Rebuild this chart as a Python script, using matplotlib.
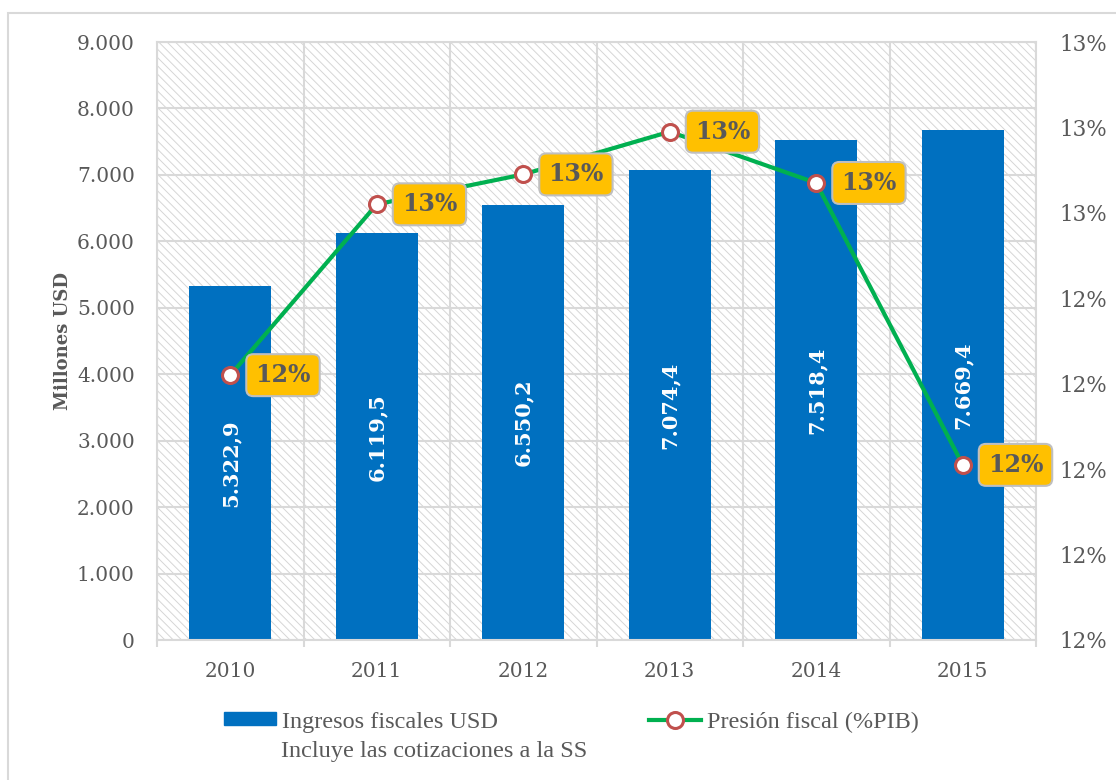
import matplotlib
matplotlib.use("Agg")
import matplotlib.pyplot as plt
from matplotlib.patches import Rectangle, Patch
from matplotlib.lines import Line2D
from matplotlib.ticker import FixedLocator, FuncFormatter
import numpy as np

# ---- data ----
years = ["2010", "2011", "2012", "2013", "2014", "2015"]
ingresos = [5322.9, 6119.5, 6550.2, 7074.4, 7518.4, 7669.4]
presion = [12.22, 12.62, 12.69, 12.79, 12.67, 12.01]
bar_label = "Ingresos fiscales USD"
bar_label2 = "Incluye las cotizaciones a la SS"
line_label = "Presión fiscal (%PIB)"
ylabel = "Millones USD"

# ---- style ----
BAR = "#0070C0"
GREEN = "#00B050"
RED = "#C0504D"
YEL = "#FFC000"
TXT = "#595959"
GRID = "#D9D9D9"
SERIF = ["DejaVu Serif"]
LEGF = ["Liberation Serif"]

plt.rcParams["hatch.linewidth"] = 0.7
plt.rcParams["hatch.color"] = "#D6D6D6"

fig = plt.figure(figsize=(11.16, 7.8), dpi=100)
# outer chart border
fig.patches.append(Rectangle((8 / 1116, -0.05), 1.1, 1 - 13 / 780 + 0.05,
                             transform=fig.transFigure, fill=False,
                             edgecolor="#D9D9D9", linewidth=1.5))

L, R, T, B = 157 / 1116, 1036 / 1116, 1 - 42 / 780, 1 - 640 / 780
ax = fig.add_axes([L, B, R - L, T - B])
ax.set_axisbelow(True)

# hatched plot background
ax.add_patch(Rectangle((0, 0), 1, 1, transform=ax.transAxes, facecolor="white",
                       hatch="\\\\\\\\", edgecolor="#D6D6D6", linewidth=0, zorder=0.2))

x = np.arange(len(years))
bars = ax.bar(x, ingresos, width=0.56, color=BAR, zorder=2)
for xi, v in zip(x, ingresos):
    s = f"{v:,.1f}".replace(",", "X").replace(".", ",").replace("X", ".")
    ax.text(xi, v / 2, s, rotation=90, ha="center", va="center", color="white",
            fontsize=15, fontweight="bold", family=SERIF, zorder=3)

ax.set_xlim(-0.5, len(years) - 0.5)
ax.set_ylim(0, 9000)
ax.set_yticks(np.arange(0, 9001, 1000))
ax.yaxis.set_major_formatter(FuncFormatter(lambda v, p: f"{int(v):,}".replace(",", ".")))
ax.set_xticks(x)
ax.set_xticklabels(years)
ax.xaxis.set_minor_locator(FixedLocator(np.arange(-0.5, len(years), 1.0)))
ax.grid(True, axis="y", which="major", color=GRID, linewidth=1.5)
ax.grid(True, axis="x", which="minor", color=GRID, linewidth=1.5)
ax.grid(False, axis="x", which="major")
for sp in ax.spines.values():
    sp.set_color(GRID)
    sp.set_linewidth(1.5)
ax.tick_params(axis="y", length=0, pad=16, labelcolor=TXT, labelsize=14.5)
ax.tick_params(axis="x", which="major", length=0, pad=16, labelcolor=TXT, labelsize=14.5)
ax.tick_params(axis="x", which="minor", length=5, width=1.5, color=GRID)
for lab in ax.get_xticklabels() + ax.get_yticklabels():
    lab.set_family(SERIF)
ax.set_ylabel(ylabel, fontsize=13, fontweight="bold", color=TXT, family=SERIF)
ax.yaxis.set_label_coords(-0.097, 0.5)

# secondary axis
ax2 = ax.twinx()
ax2.set_ylim(11.6, 13.0)
ax2.set_yticks(np.arange(11.6, 13.01, 0.2))
ax2.yaxis.set_major_formatter(FuncFormatter(lambda v, p: f"{v:.0f}%"))
ax2.tick_params(axis="y", length=0, pad=17, labelcolor=TXT, labelsize=15.5)
for lab in ax2.get_yticklabels():
    lab.set_family(SERIF)
for sp in ax2.spines.values():
    sp.set_visible(False)

ax2.plot(x, presion, color=GREEN, linewidth=3.0, marker="o", markersize=11.5,
         markerfacecolor="white", markeredgecolor=RED, markeredgewidth=2.2, zorder=3)
for xi, v in zip(x, presion):
    ax2.annotate(f"{v:.0f}%", (xi, v), xytext=(18, 0), textcoords="offset points",
                 ha="left", va="center", fontsize=17, fontweight="bold",
                 color=TXT, family=SERIF, zorder=4,
                 bbox=dict(boxstyle="round,pad=0.38,rounding_size=0.3",
                           facecolor=YEL, edgecolor="#BFBFBF", linewidth=1.5))

# legend
handles = [Patch(facecolor=BAR, edgecolor=BAR),
           Line2D([], [], color=GREEN, linewidth=3.0, marker="o", markersize=11.5,
                  markerfacecolor="white", markeredgecolor=RED, markeredgewidth=2.2)]
leg = fig.legend(handles, [bar_label, line_label], loc="center left",
                 bbox_to_anchor=(224 / 1116, 1 - 722 / 780), ncol=2, frameon=False,
                 borderpad=0, borderaxespad=0, handlelength=2.14, handleheight=0.45,
                 handletextpad=0.25, columnspacing=6.2,
                 prop=dict(family=LEGF, size=17.5))
for t in leg.get_texts():
    t.set_color(TXT)
fig.text(281 / 1116, 1 - 752 / 780, bar_label2, ha="left", va="center",
         fontsize=17.5, color=TXT, family=LEGF)

fig.savefig("out.png", dpi=100)
